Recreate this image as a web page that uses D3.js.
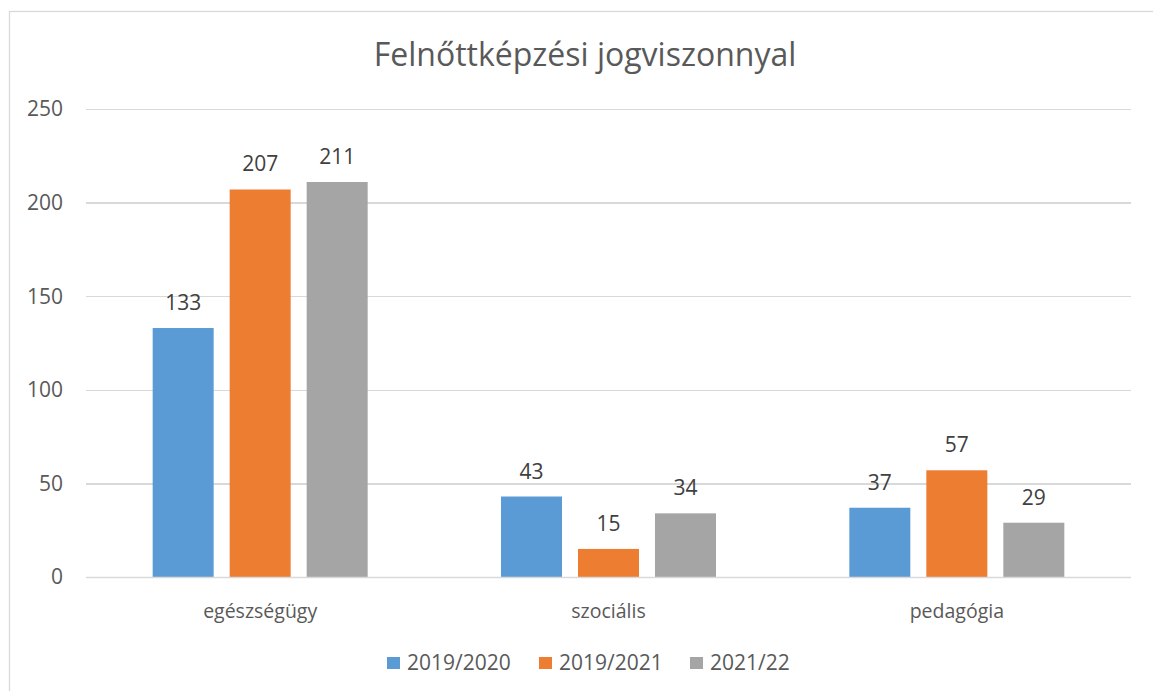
<!DOCTYPE html>
<html>
<head>
    <meta charset="utf-8">
    <title>Felnőttképzési jogviszonnyal</title>
    <script src="https://cdnjs.cloudflare.com/ajax/libs/d3/7.8.5/d3.min.js"></script>
    <style type="text/css">
    body {
        margin: 0;
        background: #fff;
        font-family: "Open Sans", "Noto Sans", sans-serif;
    }
    .grid line {
        stroke: #d9d9d9;
        stroke-width: 1.3px;
        shape-rendering: crispEdges;
    }
    .grid path { display: none; }
    </style>
</head>
<body>
<script>

// data
var categories = ["egészségügy", "szociális", "pedagógia"];
var seriesNames = ["2019/2020", "2019/2021", "2021/22"];
var values2019_2020 = [133, 43, 37];
var values2019_2021 = [207, 15, 57];
var values2021_22 = [211, 34, 29];
var yTicks = [0, 50, 100, 150, 200, 250];
var colors = ["#5b9bd5", "#ed7d31", "#a5a5a5"];

var allValues = [values2019_2020, values2019_2021, values2021_22];

var W = 1153, H = 691;
var margin = {top: 109, right: 22, bottom: 114, left: 86},
    width = W - margin.left - margin.right,
    height = H - margin.top - margin.bottom;

var svg = d3.select("body").append("svg")
    .attr("width", W)
    .attr("height", H);

// outer frame
svg.append("rect")
    .attr("x", 9.5).attr("y", 11.5)
    .attr("width", 1160).attr("height", 700)
    .attr("fill", "none")
    .attr("stroke", "#d9d9d9")
    .attr("stroke-width", 1.3);

svg.append("text")
    .attr("x", 585).attr("y", 66)
    .attr("text-anchor", "middle")
    .attr("fill", "#595959")
    .style("font-size", "32px")
    .text("Felnőttképzési jogviszonnyal");

var g = svg.append("g")
    .attr("transform", "translate(" + margin.left + "," + margin.top + ")");

var x0 = d3.scaleBand().domain(categories).range([0, width]).padding(0);
var groupW = 215;
var x1 = d3.scaleBand().domain(seriesNames)
    .range([(x0.bandwidth() - groupW) / 2, (x0.bandwidth() + groupW) / 2])
    .paddingInner(16 / 77).paddingOuter(0);
var y = d3.scaleLinear().domain([0, 250]).range([height, 0]);

g.append("g")
    .attr("class", "grid")
    .call(d3.axisLeft(y).tickValues(yTicks).tickSize(-width).tickFormat(""));

// y labels
g.selectAll(".ylab")
    .data(yTicks)
    .enter().append("text")
    .attr("class", "ylab")
    .attr("x", -23)
    .attr("y", function(d) { return y(d); })
    .attr("dy", "0.35em")
    .attr("text-anchor", "end")
    .attr("fill", "#595959")
    .style("font-size", "21px")
    .text(function(d) { return d; });

var groups = g.selectAll(".cat")
    .data(categories)
    .enter().append("g")
    .attr("class", "cat")
    .attr("transform", function(d) { return "translate(" + x0(d) + ",0)"; });

groups.selectAll("rect")
    .data(function(d, ci) {
        return seriesNames.map(function(s, si) { return {s: s, v: allValues[si][ci], i: si}; });
    })
    .enter().append("rect")
    .attr("x", function(d) { return x1(d.s); })
    .attr("y", function(d) { return y(d.v); })
    .attr("width", x1.bandwidth())
    .attr("height", function(d) { return height - y(d.v); })
    .attr("fill", function(d) { return colors[d.i]; });

groups.selectAll(".vlab")
    .data(function(d, ci) {
        return seriesNames.map(function(s, si) { return {s: s, v: allValues[si][ci]}; });
    })
    .enter().append("text")
    .attr("class", "vlab")
    .attr("x", function(d) { return x1(d.s) + x1.bandwidth() / 2; })
    .attr("y", function(d) { return y(d.v) - 18; })
    .attr("text-anchor", "middle")
    .attr("fill", "#404040")
    .style("font-size", "21px")
    .text(function(d) { return d.v; });

// baseline
g.append("line")
    .attr("x1", 0).attr("x2", width)
    .attr("y1", height + 0.5).attr("y2", height + 0.5)
    .attr("stroke", "#d9d9d9").attr("stroke-width", 1.3);

g.selectAll(".xlab")
    .data(categories)
    .enter().append("text")
    .attr("class", "xlab")
    .attr("x", function(d) { return x0(d) + x0.bandwidth() / 2; })
    .attr("y", height + 41)
    .attr("text-anchor", "middle")
    .attr("fill", "#595959")
    .style("font-size", "19.5px")
    .text(function(d) { return d; });

// legend
var legendX = [387, 539, 690];
var legend = svg.selectAll(".leg")
    .data(seriesNames)
    .enter().append("g")
    .attr("class", "leg")
    .attr("transform", function(d, i) { return "translate(" + legendX[i] + ",657)"; });

legend.append("rect")
    .attr("width", 13).attr("height", 12)
    .attr("fill", function(d, i) { return colors[i]; });

legend.append("text")
    .attr("x", 20).attr("y", 13)
    .attr("fill", "#595959")
    .style("font-size", "21px")
    .text(function(d) { return d; });

</script>
</body>
</html>
